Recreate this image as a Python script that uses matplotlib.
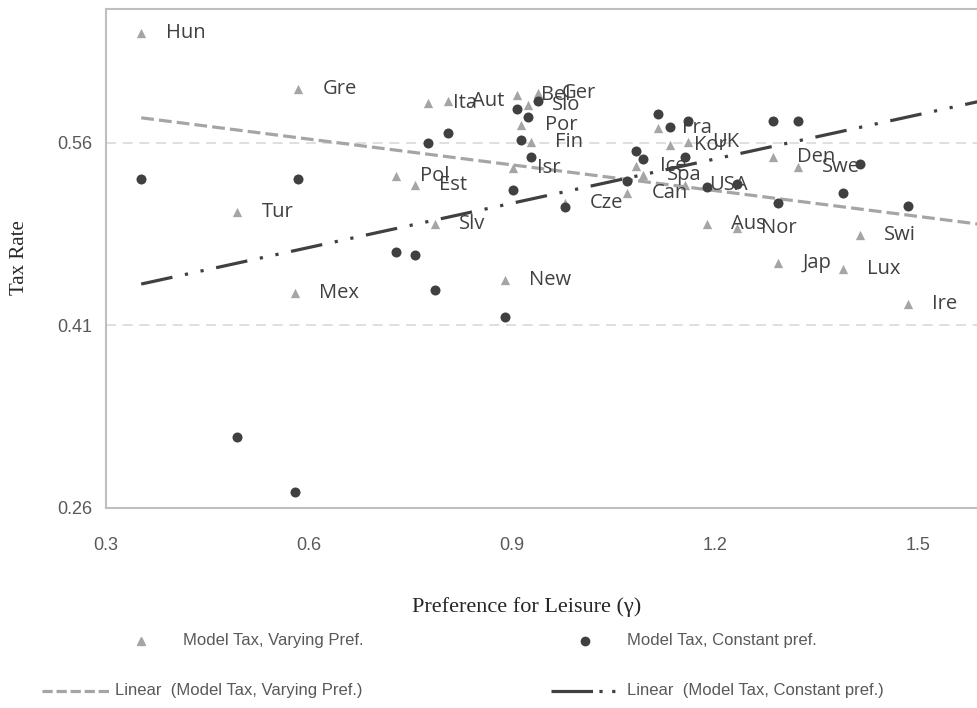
import numpy as np
import matplotlib
matplotlib.use("Agg")
import matplotlib.pyplot as plt
from matplotlib.lines import Line2D

countries = ['Hun', 'Gre', 'Tur', 'Mex', 'Pol', 'Est', 'Slv', 'Ita', 'Aut', 'Bel', 'Ger',
             'Slo', 'Por', 'Fin', 'Isr', 'Cze', 'Can', 'Ice', 'Spa', 'Fra', 'Kor', 'UK',
             'USA', 'Aus', 'Nor', 'Den', 'Swe', 'Swi', 'Lux', 'Jap', 'Ire', 'New']
pref = [0.352, 0.584, 0.494, 0.579, 0.728, 0.756, 0.786, 0.776, 0.805, 0.907, 0.938,
        0.923, 0.913, 0.928, 0.901, 0.978, 1.070, 1.083, 1.093, 1.115, 1.133, 1.160,
        1.155, 1.188, 1.232, 1.285, 1.322, 1.414, 1.389, 1.293, 1.485, 0.889]
tax_vary = [0.650, 0.604, 0.503, 0.437, 0.533, 0.525, 0.493, 0.593, 0.594, 0.599, 0.601,
            0.591, 0.575, 0.561, 0.539, 0.511, 0.519, 0.541, 0.534, 0.572, 0.558, 0.561,
            0.525, 0.493, 0.490, 0.548, 0.540, 0.484, 0.456, 0.461, 0.428, 0.447]
tax_const = [0.530, 0.530, 0.318, 0.273, 0.470, 0.468, 0.439, 0.560, 0.568, 0.588, 0.594,
             0.581, 0.562, 0.548, 0.521, 0.507, 0.529, 0.553, 0.547, 0.584, 0.573, 0.578,
             0.548, 0.524, 0.526, 0.578, 0.578, 0.543, 0.519, 0.511, 0.508, 0.417]
# linear trend lines (start / end of each line)
trend_x = [0.352, 1.6]
trend_vary = [0.5806, 0.4925]
trend_const = [0.444, 0.5953]
x_ticks = [0.3, 0.6, 0.9, 1.2, 1.5]
y_ticks = [0.26, 0.41, 0.56]

W, H = 977, 708
fig = plt.figure(figsize=(W / 100, H / 100), dpi=100)
ax = fig.add_axes([106 / W, 1 - 508 / H, (986 - 106) / W, (508 - 9) / H])
xmin, xmax = 0.3, 1.6
ax.set_xlim(xmin, xmax)
ax.set_ylim(0.26, 0.67)

TRI = '#a5a5a5'
DOT = '#404040'
TXT = '#595959'
LBL = '#404040'
SPINE = '#bfbfbf'

# gridlines
for yv in y_ticks[1:]:
    ax.axhline(yv, color='#d9d9d9', lw=1.2, ls=(0, (6, 4)), zorder=1)

# trend lines
ax.plot(trend_x, trend_vary, color=TRI, lw=2.3, dashes=[4, 1.6], zorder=2,
        dash_capstyle='butt')
ax.plot(trend_x, trend_const, color=DOT, lw=2.3, dashes=[10, 4, 1, 4, 1, 4], zorder=2,
        dash_capstyle='butt')

ax.scatter(pref, tax_vary, marker='^', s=45, color=TRI, linewidths=0, zorder=3)
ax.scatter(pref, tax_const, marker='o', s=52, color=DOT, linewidths=0, zorder=4)

for c, xi, yi in zip(countries, pref, tax_vary):
    ax.annotate(c, (xi, yi), xytext=(17.5, 0), textcoords='offset points',
                ha='left', va='center', fontsize=14.5, color=LBL,
                family='Open Sans', zorder=5)

ax.set_xticks(x_ticks)
ax.set_xticklabels([f'{v:.1f}' for v in x_ticks])
ax.set_yticks(y_ticks)
ax.set_yticklabels([f'{v:.2f}' for v in y_ticks])
ax.tick_params(axis='both', length=0, colors=TXT, labelsize=13)
ax.tick_params(axis='x', pad=21)
ax.tick_params(axis='y', pad=10)
for lab in ax.get_xticklabels() + ax.get_yticklabels():
    lab.set_family('Liberation Sans')

for s in ['left', 'top', 'bottom', 'right']:
    ax.spines[s].set_color(SPINE)
    ax.spines[s].set_linewidth(1.5)

ax.set_xlabel('Preference for Leisure (γ)', family='Liberation Serif', fontsize=16,
              color='#262626')
ax.xaxis.set_label_coords((527 - 106) / 880, (508 - 607) / 499, transform=ax.transAxes)
ax.xaxis.label.set_va('center')
ax.set_ylabel('Tax Rate', family='Liberation Serif', fontsize=15, color='#262626')
ax.yaxis.set_label_coords((19 - 106) / 880, (508 - 258) / 499, transform=ax.transAxes)
ax.yaxis.label.set_va('center')

# legend (manual, figure pixel layout)
def fx(px):
    return px / W

def fy(py):
    return 1 - py / H

LFS = 12
fig.add_artist(Line2D([fx(141)], [fy(641)], marker='^', color=TRI, markersize=5.5,
                      ls='none', transform=fig.transFigure))
fig.text(fx(183), fy(641), 'Model Tax, Varying Pref.', fontsize=LFS, color=TXT,
         family='Liberation Sans', va='center', ha='left')
fig.add_artist(Line2D([fx(585)], [fy(641)], marker='o', color=DOT, markersize=6,
                      ls='none', transform=fig.transFigure))
fig.text(fx(627), fy(641), 'Model Tax, Constant pref.', fontsize=LFS, color=TXT,
         family='Liberation Sans', va='center', ha='left')
fig.add_artist(Line2D([fx(42), fx(111)], [fy(691), fy(691)], color=TRI, lw=2.3,
                      dashes=[3.2, 1.2], dash_capstyle='butt', transform=fig.transFigure))
fig.text(fx(115), fy(691), 'Linear  (Model Tax, Varying Pref.)', fontsize=LFS, color=TXT,
         family='Liberation Sans', va='center', ha='left')
fig.add_artist(Line2D([fx(551), fx(616)], [fy(691), fy(691)], color=DOT, lw=2.3,
                      dashes=[13, 2, 1, 3, 1, 3], dash_capstyle='butt',
                      transform=fig.transFigure))
fig.text(fx(627), fy(691), 'Linear  (Model Tax, Constant pref.)', fontsize=LFS, color=TXT,
         family='Liberation Sans', va='center', ha='left')

fig.savefig('out.png', dpi=100)
